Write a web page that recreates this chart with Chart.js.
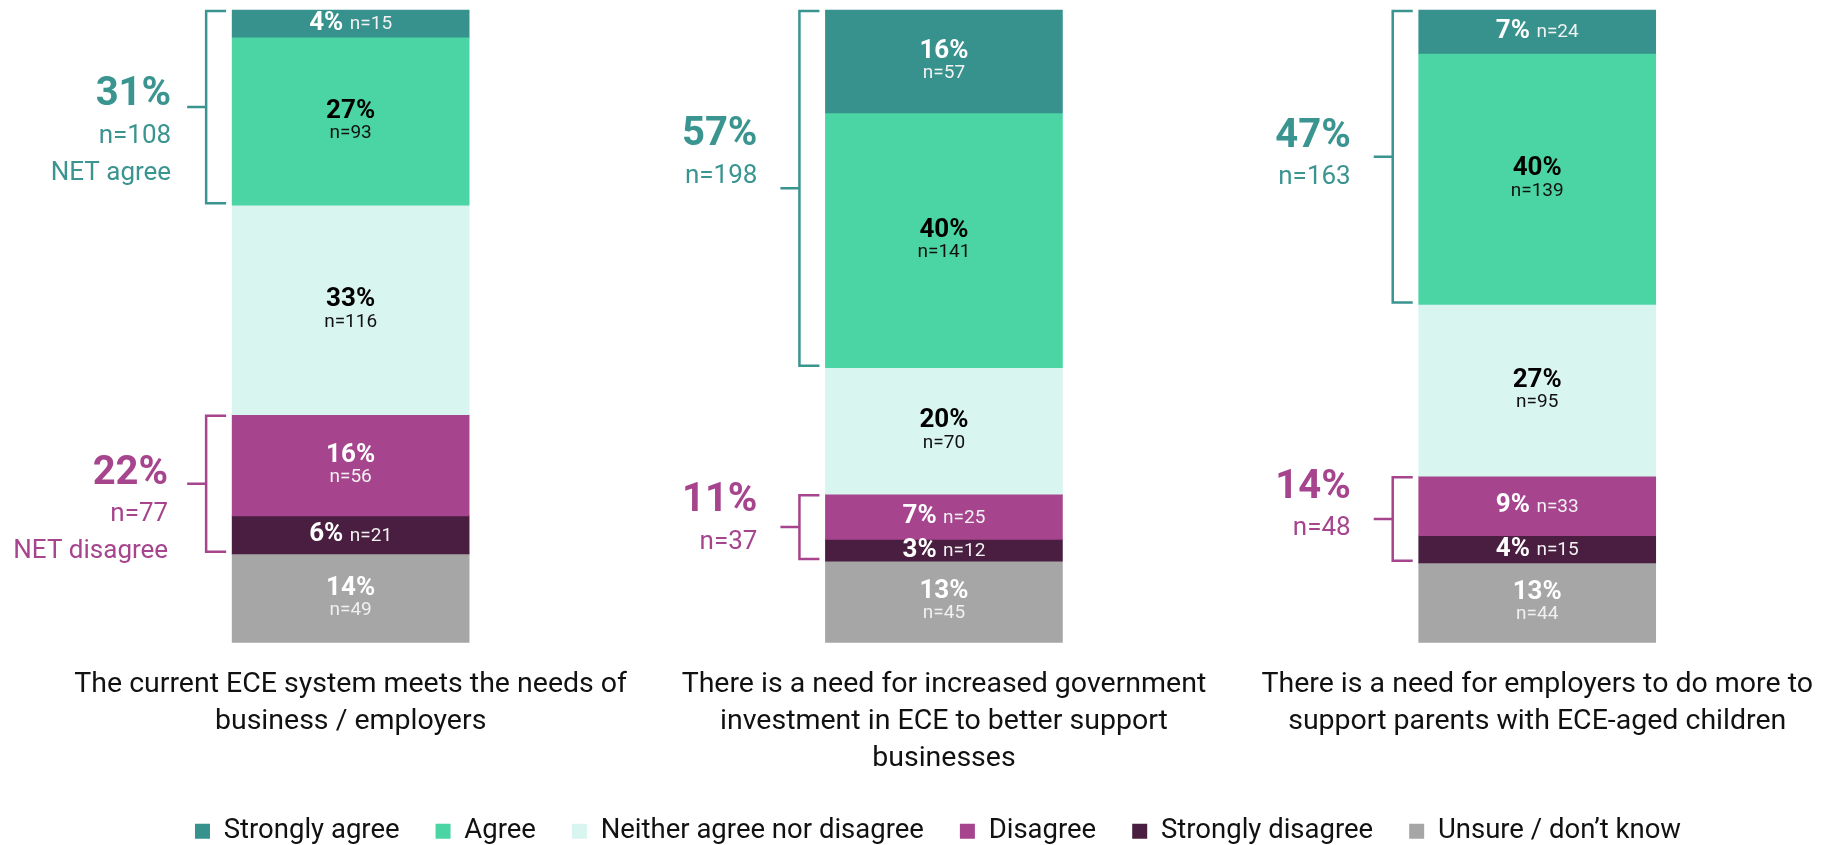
<!DOCTYPE html>
<html>
<head>
<meta charset="utf-8">
<script src="https://cdn.jsdelivr.net/npm/chart.js@4"></script>
<style>
  html, body { margin: 0; background: #fff; }
  #wrap { width: 1822px; height: 845px; }
</style>
</head>
<body>
<div id="wrap"><canvas id="chart"></canvas></div>
<script>
const FONT = 'Roboto'

// statements (x categories), each caption split into its lines
const statements = [
  ['The current ECE system meets the needs of', 'business / employers'],
  ['There is a need for increased government', 'investment in ECE to better support', 'businesses'],
  ['There is a need for employers to do more to', 'support parents with ECE-aged children']
]
const responses = ['Strongly agree', 'Agree', 'Neither agree nor disagree', 'Disagree', 'Strongly disagree', 'Unsure / don\u2019t know']
const sampleSize = 350

// respondent counts per statement
const stronglyAgree    = [15, 57, 24]
const agree            = [93, 141, 139]
const neither          = [116, 70, 95]
const disagree         = [56, 25, 33]
const stronglyDisagree = [21, 12, 15]
const unsure           = [49, 45, 44]

// rounded shares printed on the segments
const stronglyAgreePct    = [4, 16, 7]
const agreePct            = [27, 40, 40]
const neitherPct          = [33, 20, 27]
const disagreePct         = [16, 7, 9]
const stronglyDisagreePct = [6, 3, 4]
const unsurePct           = [14, 13, 13]

// NET figures beside the brackets
const netAgreePct    = [31, 57, 47]
const netAgreeN      = [108, 198, 163]
const netDisagreePct = [22, 11, 14]
const netDisagreeN   = [77, 37, 48]

const colors     = ['#37918c', '#4bd4a4', '#d9f5ef', '#a6458e', '#4a1e40', '#a6a6a6']
const textColors = ['#ffffff', '#000000', '#000000', '#ffffff', '#ffffff', '#ffffff']
const nColors    = ['#f2f2f2', '#111111', '#111111', '#f2f2f2', '#f2f2f2', '#f0f0f0']

const counts = [stronglyAgree, agree, neither, disagree, stronglyDisagree, unsure]
const shares = [stronglyAgreePct, agreePct, neitherPct, disagreePct, stronglyDisagreePct, unsurePct]

const datasets = responses.map((label, d) => ({
    label: label
  , data: counts[d]
  , pct: shares[d]
  , backgroundColor: colors[d]
  , borderWidth: 0
  , textColor: textColors[d]
  , nColor: nColors[d]
  , barThickness: 237
  , clip: false
}))

// bracket groups: datasets from..to; shift/dx place the NET text block (px)
const netGroups = [
    { from: 0, to: 1, pct: netAgreePct, n: netAgreeN, title: 'NET agree', color: '#3a9490',
      shift: [-12, -53, -20], dx: [-35, -42, -42] }
  , { from: 3, to: 4, pct: netDisagreePct, n: netDisagreeN, title: 'NET disagree', color: '#a6458e',
      shift: [-10, -26, -31], dx: [-38, -42, -42] }
]

const segmentLabels = {
  id: 'segmentLabels',
  afterDatasetsDraw(chart) {
    const ctx = chart.ctx
    const bold = `bold 26px ${FONT}`
    const reg = `19px ${FONT}`
    ctx.save()
    ctx.textBaseline = 'middle'
    chart.data.datasets.forEach((ds, d) => {
      chart.getDatasetMeta(d).data.forEach((bar, i) => {
        const pct = ds.pct[i] + '%'
        const n = 'n=' + ds.data[i]
        const cy = (bar.y + bar.base) / 2
        const h = Math.abs(bar.base - bar.y)
        if (h < 65) {
          ctx.font = bold
          const w1 = ctx.measureText(pct + ' ').width
          ctx.font = reg
          const w2 = ctx.measureText(n).width
          const x = bar.x - (w1 + w2) / 2
          ctx.textAlign = 'left'
          ctx.font = bold
          ctx.fillStyle = ds.textColor
          ctx.fillText(pct, x, cy)
          ctx.font = reg
          ctx.fillStyle = ds.nColor
          ctx.fillText(n, x + w1, cy + 1)
        } else {
          ctx.textAlign = 'center'
          ctx.font = bold
          ctx.fillStyle = ds.textColor
          ctx.fillText(pct, bar.x, cy - 10)
          ctx.font = reg
          ctx.fillStyle = ds.nColor
          ctx.fillText(n, bar.x, cy + 12)
        }
      })
    })
    ctx.restore()
  }
}

const netBrackets = {
  id: 'netBrackets',
  afterDatasetsDraw(chart) {
    const ctx = chart.ctx
    ctx.save()
    netGroups.forEach(g => {
      const first = chart.getDatasetMeta(g.from).data
      const last = chart.getDatasetMeta(g.to).data
      first.forEach((bar, i) => {
        const top = bar.base + 1
        const bottom = last[i].y - 2
        const mid = (top + bottom) / 2
        const left = bar.x - bar.width / 2
        const vx = left - 26
        ctx.strokeStyle = g.color
        ctx.lineWidth = 2.5
        ctx.beginPath()
        ctx.moveTo(left - 6, top)
        ctx.lineTo(vx, top)
        ctx.lineTo(vx, bottom)
        ctx.lineTo(left - 6, bottom)
        ctx.moveTo(vx, mid)
        ctx.lineTo(vx - 19, mid)
        ctx.stroke()

        const tx = vx + g.dx[i]
        const y0 = mid + g.shift[i]
        ctx.fillStyle = g.color
        ctx.textAlign = 'right'
        ctx.textBaseline = 'middle'
        ctx.font = `bold 40px ${FONT}`
        ctx.fillText(g.pct[i] + '%', tx, y0)
        ctx.font = `26px ${FONT}`
        ctx.fillText('n=' + g.n[i], tx, y0 + 41)
        if (i === 0) ctx.fillText(g.title, tx, y0 + 78)
      })
    })
    ctx.restore()
  }
}

new Chart(document.getElementById('chart'), {
  type: 'bar'
, data: { labels: statements.map((s, i) => i), datasets: datasets }
, plugins: [segmentLabels, netBrackets]
, options: {
    responsive: true
  , maintainAspectRatio: false
  , animation: false
  , layout: { padding: { top: 10, left: 54, right: 0, bottom: -10 } }
  , scales: {
      x: {
        type: 'linear'
      , stacked: true
      , min: -0.5
      , max: 2.48
      , offset: false
      , afterBuildTicks: scale => { scale.ticks = statements.map((s, i) => ({ value: i })) }
      , afterFit: scale => {
          scale.height -= 20
          scale.paddingLeft = 0
          scale.paddingRight = 0
        }
      , ticks: {
          autoSkip: false
        , maxRotation: 0
        , minRotation: 0
        , padding: 24
        , color: '#111'
        , font: { family: FONT, size: 28.5, lineHeight: 1.3 }
        , callback: value => statements[value]
        }
      , grid: { display: false, drawTicks: false }
      , border: { display: false }
      }
    , y: {
        stacked: true
      , reverse: true
      , min: 0
      , max: sampleSize
      , display: false
      }
    }
  , plugins: {
      tooltip: { enabled: false }
    , legend: {
        position: 'bottom'
      , labels: {
          color: '#111'
        , font: { family: FONT, size: 27.5 }
        , boxWidth: 15
        , boxHeight: 15
        , padding: 36
        }
      }
    }
  }
})
</script>
</body>
</html>
